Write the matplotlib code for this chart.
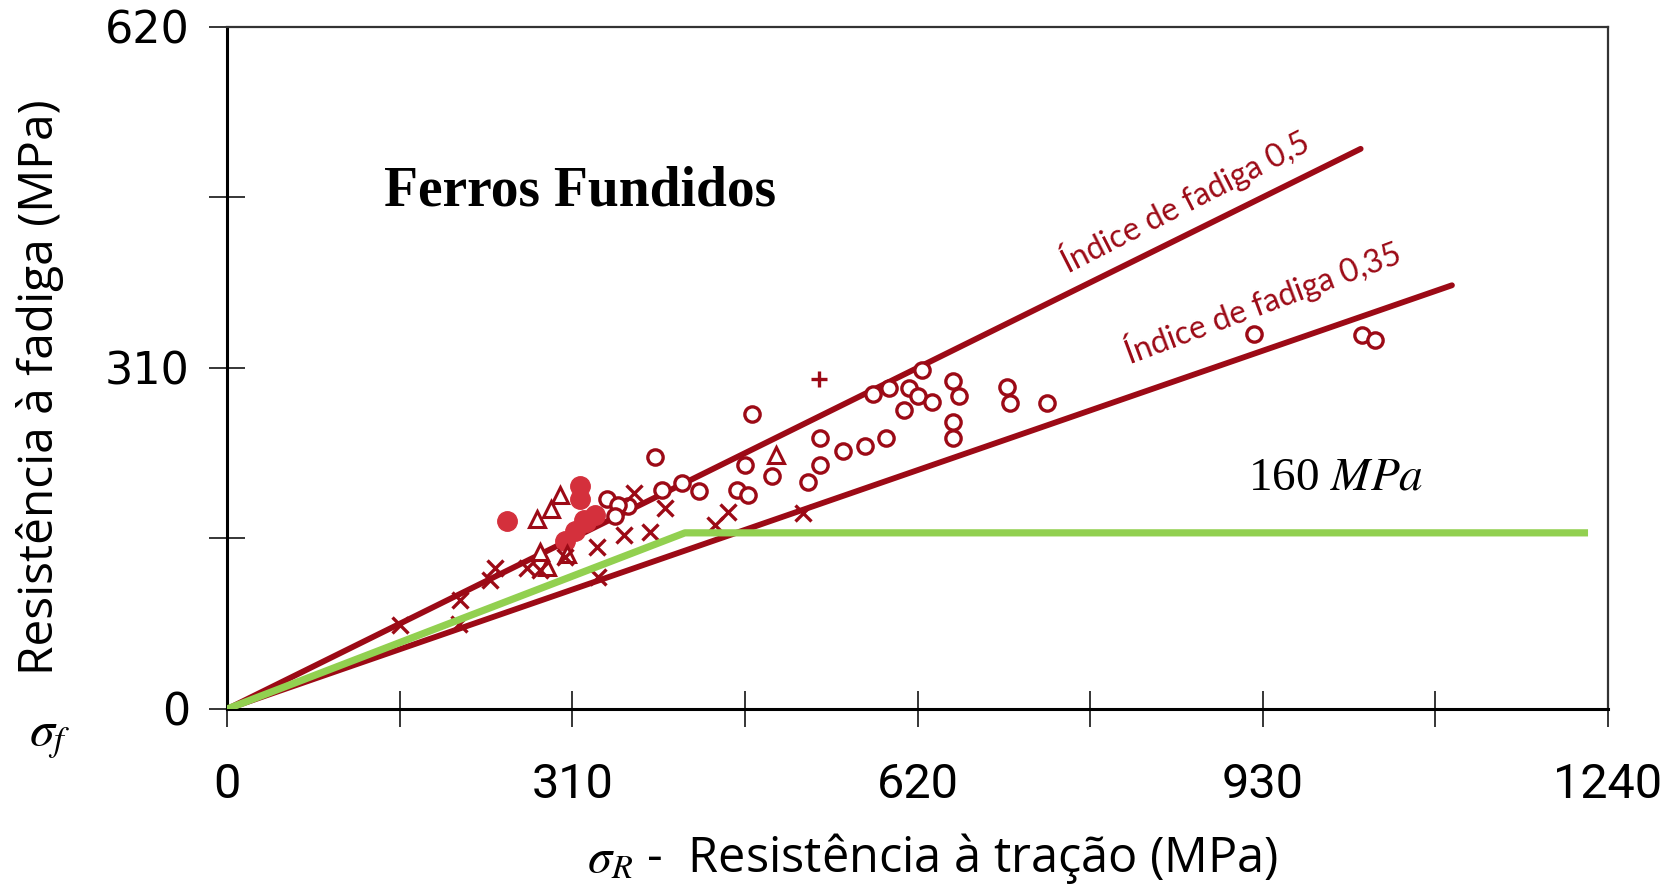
import matplotlib.pyplot as plt

# fatigue limit vs tensile strength for cast irons (MPa)
circle_x = [580, 594, 612, 620, 608, 633, 624, 652, 657, 652, 652, 700, 703, 736,
            553, 573, 592, 384, 390, 360, 408, 424, 465, 489, 458, 468, 532, 532,
            522, 471, 341, 351, 348, 922, 1019, 1031]
circle_y = [286, 292, 292, 284, 272, 279, 308, 298, 284, 261, 246, 293, 278, 278,
            234, 239, 246, 229, 199, 184, 205, 198, 222, 212, 199, 194, 246, 222,
            206, 268, 191, 185, 175, 341, 340, 335]
cross_x = [155, 208, 209, 240, 236, 269, 281, 303, 332, 333, 356, 380, 393, 365, 450, 438, 517]
cross_y = [76, 77, 99, 128, 117, 128, 126, 138, 147, 120, 158, 161, 183, 196, 179, 167, 178]
tri_x = [278, 291, 299, 281, 305, 287, 493]
tri_y = [173, 182, 194, 143, 141, 129, 231]
plus_x = [531]
plus_y = [300]
solid_x = [251, 317, 317, 320, 303, 312, 322, 330]
solid_y = [171, 203, 191, 172, 153, 162, 170, 176]

# fatigue index lines (ratio, end of line on x)
ratio_hi, end_hi = 0.5, 1018
ratio_lo, end_lo = 0.35, 1100

# design curve
green_x = [0, 411, 1219]
green_y = [0, 160, 160]

RED = '#9c0a16'
LIGHT_RED = '#d4303c'
GREEN = '#92d050'

plt.rcParams['mathtext.fontset'] = 'stix'

fig = plt.figure(figsize=(16.74, 8.86), dpi=100)
ax = fig.add_axes([0.13584, 0.19989, 0.82461, 0.76998])

ax.plot([0, end_hi], [0, ratio_hi * end_hi], color=RED, lw=4.2, solid_capstyle='round', zorder=2)
ax.plot([0, end_lo], [0, ratio_lo * end_lo], color=RED, lw=4.2, solid_capstyle='round', zorder=2)

ax.plot(solid_x, solid_y, 'o', ms=14, color=LIGHT_RED, mec=LIGHT_RED, mew=1, zorder=3)
ax.plot(circle_x, circle_y, 'o', ms=11, mfc='white', mec=RED, mew=2.4, zorder=4)
ax.plot(tri_x, tri_y, '^', ms=11, mfc='white', mec=RED, mew=2.2, zorder=4)
ax.plot(cross_x, cross_y, 'x', ms=11, color=RED, mew=2.4, zorder=4)
ax.plot(plus_x, plus_y, '+', ms=12, color=RED, mew=2.4, zorder=4)

ax.plot(green_x, green_y, color=GREEN, lw=5.2, zorder=5)

ax.text(860, 462, 'Índice de fadiga 0,5', color=RED, fontsize=23, family='Lato',
        rotation=27, rotation_mode='anchor', ha='center', va='center')
ax.text(930, 370, 'Índice de fadiga 0,35', color=RED, fontsize=23, family='Lato',
        rotation=20.5, rotation_mode='anchor', ha='center', va='center')

ax.set_xlim(0, 1240)
ax.set_ylim(0, 620)
ax.set_xticks([0, 155, 310, 465, 620, 775, 930, 1085, 1240])
ax.set_xticklabels(['0', '', '310', '', '620', '', '930', '', '1240'])
ax.set_yticks([0, 155, 310, 465, 620])
ax.set_yticklabels(['0', '', '310', '', '620'])
ax.tick_params(direction='inout', length=26, width=1.1, color='black')
ax.tick_params(axis='x', pad=25, labelsize=35)
ax.tick_params(axis='y', pad=14, labelsize=32)
for lab in ax.get_xticklabels():
    lab.set_family('Roboto')
for lab in ax.get_yticklabels():
    lab.set_family('DejaVu Sans')

for side in ['left', 'bottom']:
    ax.spines[side].set_linewidth(2.2)
    ax.spines[side].set_color('black')
for side in ['top', 'right']:
    ax.spines[side].set_linewidth(1.6)
    ax.spines[side].set_color('#333333')

fig.text(384 / 1674, 1 - 205 / 886, 'Ferros Fundidos', fontsize=40, fontweight='bold',
         family='Liberation Serif', va='baseline', ha='left')
fig.text(1248 / 1674, 1 - 490 / 886, '160 $MPa$', fontsize=34,
         family='Liberation Serif', va='baseline', ha='left')

fig.text(40 / 1674, 1 - 387 / 886, 'Resistência à fadiga (MPa)', rotation=90,
         fontsize=34.5, family='Open Sans', ha='center', va='center')
fig.text(50 / 1674, 1 - 737 / 886, r'$\sigma_f$', fontsize=36, ha='center', va='center')
fig.text(933 / 1674, 1 - 858 / 886, r'$\sigma_R$ -  Resistência à tração (MPa)',
         fontsize=35, family='Open Sans', ha='center', va='center')

fig.savefig('out.png', dpi=100)
